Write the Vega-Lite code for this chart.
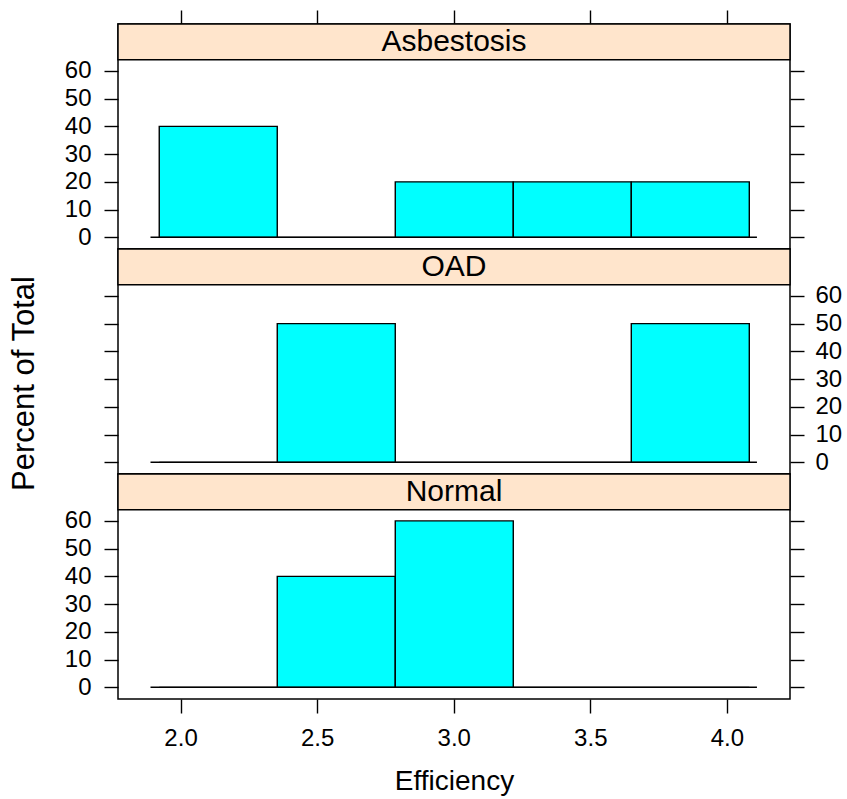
{
  "$schema": "https://vega.github.io/schema/vega-lite/v6.json",
  "padding": {"left": 7, "top": 8, "right": 2, "bottom": 0},
  "background": "white",
  "datasets": {
    "bins": [
      {"group": "Asbestosis", "start": 1.922, "end": 2.354, "pct": 40},
      {"group": "Asbestosis", "start": 2.354, "end": 2.786, "pct": 0},
      {"group": "Asbestosis", "start": 2.786, "end": 3.218, "pct": 20},
      {"group": "Asbestosis", "start": 3.218, "end": 3.65, "pct": 20},
      {"group": "Asbestosis", "start": 3.65, "end": 4.082, "pct": 20},
      {"group": "OAD", "start": 1.922, "end": 2.354, "pct": 0},
      {"group": "OAD", "start": 2.354, "end": 2.786, "pct": 50},
      {"group": "OAD", "start": 2.786, "end": 3.218, "pct": 0},
      {"group": "OAD", "start": 3.218, "end": 3.65, "pct": 0},
      {"group": "OAD", "start": 3.65, "end": 4.082, "pct": 50},
      {"group": "Normal", "start": 1.922, "end": 2.354, "pct": 0},
      {"group": "Normal", "start": 2.354, "end": 2.786, "pct": 40},
      {"group": "Normal", "start": 2.786, "end": 3.218, "pct": 60},
      {"group": "Normal", "start": 3.218, "end": 3.65, "pct": 0},
      {"group": "Normal", "start": 3.65, "end": 4.082, "pct": 0}
    ],
    "strips": [
      {"group": "Asbestosis"},
      {"group": "OAD"},
      {"group": "Normal"}
    ]
  },
  "spacing": 0,
  "bounds": "flush",
  "vconcat": [
    {
      "width": 672,
      "height": 225,
      "resolve": {"scale": {"x": "independent", "y": "independent"}, "axis": {"x": "independent", "y": "independent"}},
      "layer": [
        {
          "data": {"name": "strips"},
          "transform": [{"filter": "datum.group === 'Asbestosis'"}],
          "mark": {"type": "rect", "fill": "#FFE5CC", "stroke": "black", "strokeWidth": 1.5},
          "encoding": {
            "x": {"datum": 1.771, "type": "quantitative", "scale": {"domain": [1.771, 4.231], "nice": false, "zero": false}, "axis": null},
            "x2": {"datum": 4.231},
            "y": {"datum": 64, "type": "quantitative", "scale": {"domain": [-4.2, 76.9], "nice": false, "zero": false}, "axis": null},
            "y2": {"datum": 76.9}
          }
        },
        {
          "data": {"name": "strips"},
          "transform": [{"filter": "datum.group === 'Asbestosis'"}],
          "mark": {"type": "text", "font": "Liberation Sans", "fontSize": 30, "color": "black", "baseline": "middle", "align": "center"},
          "encoding": {
            "text": {"field": "group"},
            "x": {"datum": 3.001, "type": "quantitative", "scale": {"domain": [1.771, 4.231], "nice": false, "zero": false}, "axis": null},
            "y": {"datum": 70.45, "type": "quantitative", "scale": {"domain": [-4.2, 76.9], "nice": false, "zero": false}, "axis": null}
          }
        },
        {
          "data": {"name": "bins"},
          "transform": [{"filter": "datum.group === 'Asbestosis'"}],
          "mark": {"type": "rect", "fill": "#00FFFF", "stroke": "black", "strokeWidth": 1.4},
          "encoding": {
            "x": {"field": "start", "type": "quantitative", "scale": {"domain": [1.771, 4.231], "nice": false, "zero": false}, "axis": null},
            "x2": {"field": "end"},
            "y": {"field": "pct", "type": "quantitative", "scale": {"domain": [-4.2, 76.9], "nice": false, "zero": false},
                  "axis": {"orient": "left", "values": [0, 10, 20, 30, 40, 50, 60], "title": null, "labelPadding": 13}},
            "y2": {"datum": 0}
          }
        },
        {
          "data": {"values": [{"baseline": 0}]},
          "mark": {"type": "rule", "color": "black", "strokeWidth": 1.5},
          "encoding": {
            "x": {"datum": 1.89, "type": "quantitative", "scale": {"domain": [1.771, 4.231], "nice": false, "zero": false},
                  "axis": {"orient": "top", "values": [2, 2.5, 3, 3.5, 4], "labels": false, "title": null}},
            "x2": {"datum": 4.11},
            "y": {"field": "baseline", "type": "quantitative", "scale": {"domain": [-4.2, 76.9], "nice": false, "zero": false},
                  "axis": {"orient": "right", "values": [0, 10, 20, 30, 40, 50, 60], "labels": false, "title": null}}
          }
        }
      ]
    },
    {
      "width": 672,
      "height": 225,
      "resolve": {"scale": {"x": "independent", "y": "independent"}, "axis": {"x": "independent", "y": "independent"}},
      "layer": [
        {
          "data": {"name": "strips"},
          "transform": [{"filter": "datum.group === 'OAD'"}],
          "mark": {"type": "rect", "fill": "#FFE5CC", "stroke": "black", "strokeWidth": 1.5},
          "encoding": {
            "x": {"datum": 1.771, "type": "quantitative", "scale": {"domain": [1.771, 4.231], "nice": false, "zero": false}, "axis": null},
            "x2": {"datum": 4.231},
            "y": {"datum": 64, "type": "quantitative", "scale": {"domain": [-4.2, 76.9], "nice": false, "zero": false}, "axis": null},
            "y2": {"datum": 76.9}
          }
        },
        {
          "data": {"name": "strips"},
          "transform": [{"filter": "datum.group === 'OAD'"}],
          "mark": {"type": "text", "font": "Liberation Sans", "fontSize": 30, "color": "black", "baseline": "middle", "align": "center"},
          "encoding": {
            "text": {"field": "group"},
            "x": {"datum": 3.001, "type": "quantitative", "scale": {"domain": [1.771, 4.231], "nice": false, "zero": false}, "axis": null},
            "y": {"datum": 70.45, "type": "quantitative", "scale": {"domain": [-4.2, 76.9], "nice": false, "zero": false}, "axis": null}
          }
        },
        {
          "data": {"name": "bins"},
          "transform": [{"filter": "datum.group === 'OAD'"}],
          "mark": {"type": "rect", "fill": "#00FFFF", "stroke": "black", "strokeWidth": 1.4},
          "encoding": {
            "x": {"field": "start", "type": "quantitative", "scale": {"domain": [1.771, 4.231], "nice": false, "zero": false}, "axis": null},
            "x2": {"field": "end"},
            "y": {"field": "pct", "type": "quantitative", "scale": {"domain": [-4.2, 76.9], "nice": false, "zero": false},
                  "axis": {"orient": "left", "values": [0, 10, 20, 30, 40, 50, 60], "labels": false, "title": "Percent of Total",
                           "titleX": -84.6, "titleY": 134, "titleBaseline": "alphabetic", "titleAlign": "center", "titleAngle": 270, "titleFontSize": 31}},
            "y2": {"datum": 0}
          }
        },
        {
          "data": {"values": [{"baseline": 0}]},
          "mark": {"type": "rule", "color": "black", "strokeWidth": 1.5},
          "encoding": {
            "x": {"datum": 1.89, "type": "quantitative", "scale": {"domain": [1.771, 4.231], "nice": false, "zero": false}, "axis": null},
            "x2": {"datum": 4.11},
            "y": {"field": "baseline", "type": "quantitative", "scale": {"domain": [-4.2, 76.9], "nice": false, "zero": false},
                  "axis": {"orient": "right", "values": [0, 10, 20, 30, 40, 50, 60], "title": null, "labelPadding": 11}}
          }
        }
      ]
    },
    {
      "width": 672,
      "height": 225,
      "resolve": {"scale": {"x": "independent", "y": "independent"}, "axis": {"x": "independent", "y": "independent"}},
      "layer": [
        {
          "data": {"name": "strips"},
          "transform": [{"filter": "datum.group === 'Normal'"}],
          "mark": {"type": "rect", "fill": "#FFE5CC", "stroke": "black", "strokeWidth": 1.5},
          "encoding": {
            "x": {"datum": 1.771, "type": "quantitative", "scale": {"domain": [1.771, 4.231], "nice": false, "zero": false}, "axis": null},
            "x2": {"datum": 4.231},
            "y": {"datum": 64, "type": "quantitative", "scale": {"domain": [-4.2, 76.9], "nice": false, "zero": false}, "axis": null},
            "y2": {"datum": 76.9}
          }
        },
        {
          "data": {"name": "strips"},
          "transform": [{"filter": "datum.group === 'Normal'"}],
          "mark": {"type": "text", "font": "Liberation Sans", "fontSize": 30, "color": "black", "baseline": "middle", "align": "center"},
          "encoding": {
            "text": {"field": "group"},
            "x": {"datum": 3.001, "type": "quantitative", "scale": {"domain": [1.771, 4.231], "nice": false, "zero": false}, "axis": null},
            "y": {"datum": 70.45, "type": "quantitative", "scale": {"domain": [-4.2, 76.9], "nice": false, "zero": false}, "axis": null}
          }
        },
        {
          "data": {"name": "bins"},
          "transform": [{"filter": "datum.group === 'Normal'"}],
          "mark": {"type": "rect", "fill": "#00FFFF", "stroke": "black", "strokeWidth": 1.4},
          "encoding": {
            "x": {"field": "start", "type": "quantitative", "scale": {"domain": [1.771, 4.231], "nice": false, "zero": false},
                  "axis": {"orient": "bottom", "values": [2, 2.5, 3, 3.5, 4], "format": ".1f", "title": "Efficiency", "labelPadding": 13,
                           "titleY": 90.6, "titleBaseline": "alphabetic"}},
            "x2": {"field": "end"},
            "y": {"field": "pct", "type": "quantitative", "scale": {"domain": [-4.2, 76.9], "nice": false, "zero": false},
                  "axis": {"orient": "left", "values": [0, 10, 20, 30, 40, 50, 60], "title": null, "labelPadding": 13}},
            "y2": {"datum": 0}
          }
        },
        {
          "data": {"values": [{"baseline": 0}]},
          "mark": {"type": "rule", "color": "black", "strokeWidth": 1.5},
          "encoding": {
            "x": {"datum": 1.89, "type": "quantitative", "scale": {"domain": [1.771, 4.231], "nice": false, "zero": false}, "axis": null},
            "x2": {"datum": 4.11},
            "y": {"field": "baseline", "type": "quantitative", "scale": {"domain": [-4.2, 76.9], "nice": false, "zero": false},
                  "axis": {"orient": "right", "values": [0, 10, 20, 30, 40, 50, 60], "labels": false, "title": null}}
          }
        }
      ]
    }
  ],
  "config": {
    "view": {"stroke": "black", "strokeWidth": 1.5},
    "axis": {
      "domain": false,
      "grid": false,
      "ticks": true,
      "tickColor": "black",
      "tickWidth": 1.4,
      "tickSize": 14,
      "labelFont": "Liberation Sans",
      "labelFontSize": 24,
      "labelColor": "black",
      "titleFont": "Liberation Sans",
      "titleFontSize": 28,
      "titleFontWeight": "normal",
      "titleColor": "black"
    }
  }
}
